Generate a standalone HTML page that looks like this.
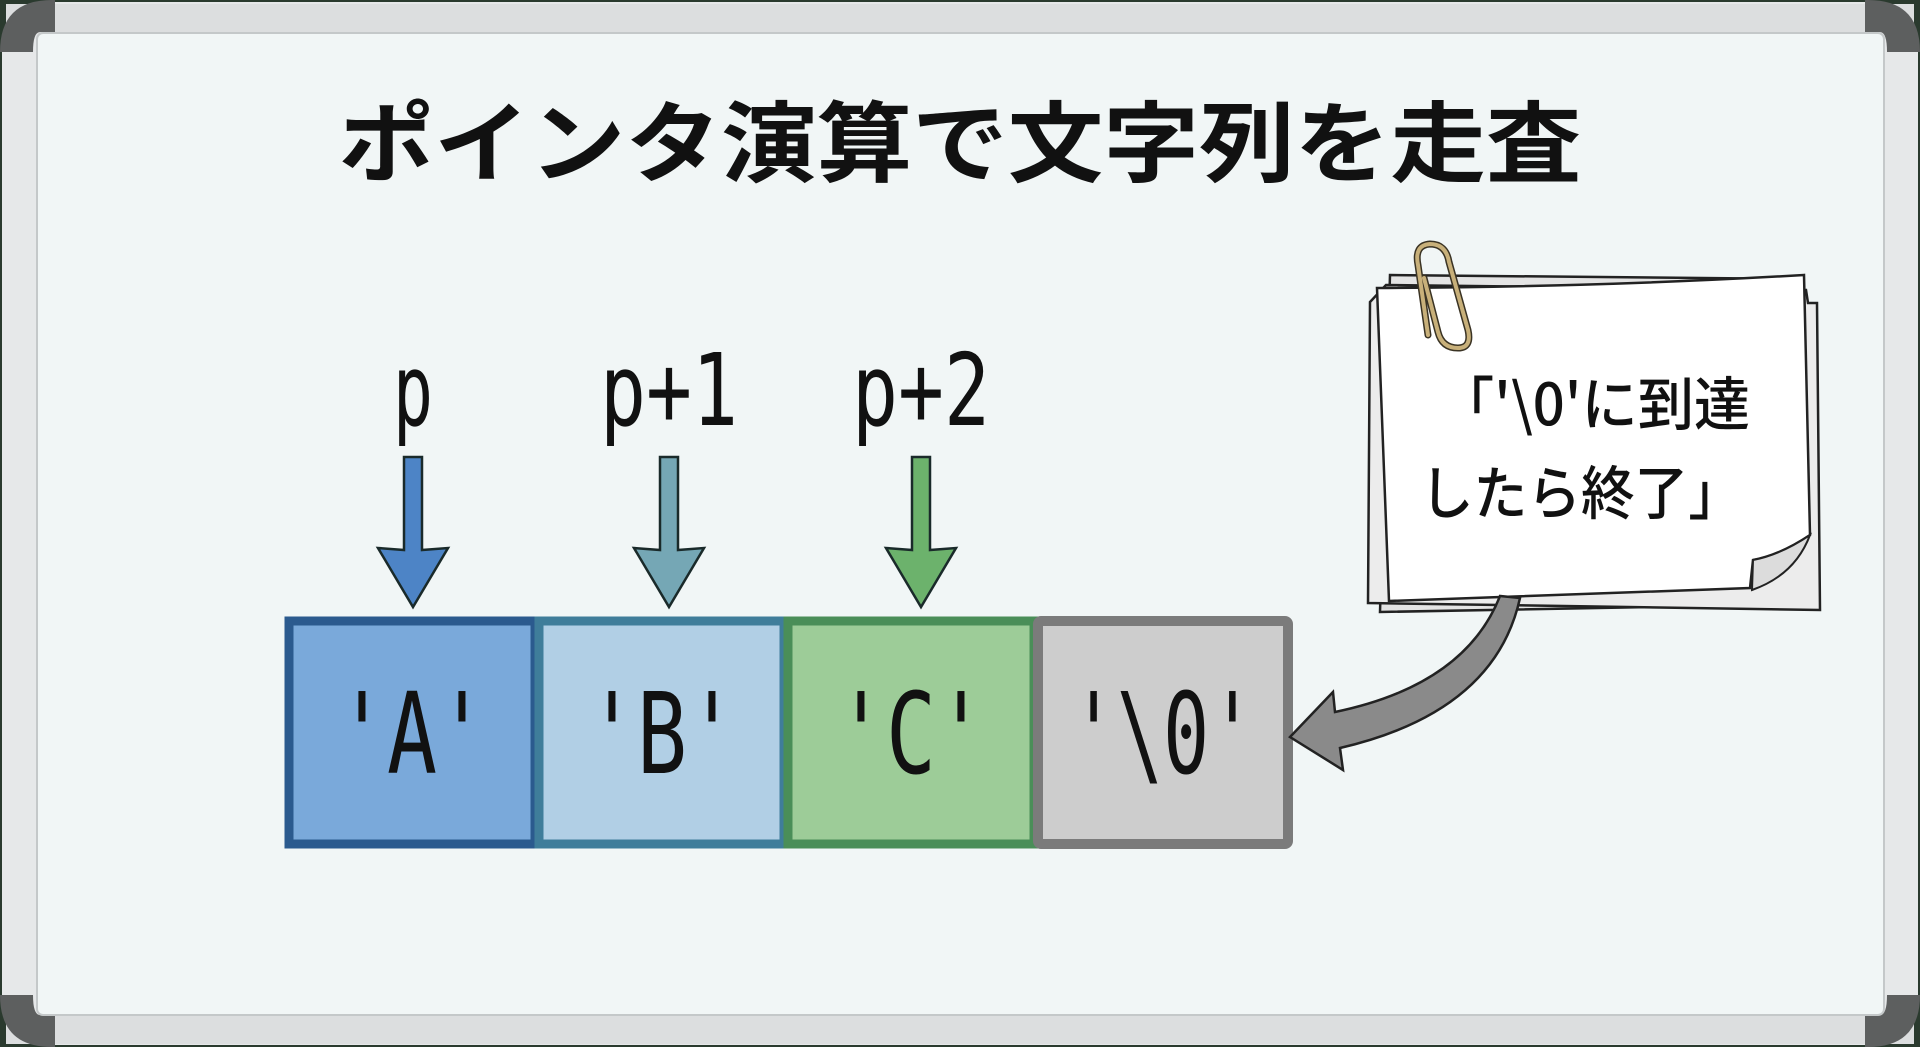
<!DOCTYPE html>
<html><head><meta charset="utf-8"><style>
html,body{margin:0;padding:0;background:#222;}
svg{display:block;}
</style></head><body>
<svg width="1920" height="1047" viewBox="0 0 1920 1047" xmlns="http://www.w3.org/2000/svg">
<rect x="0" y="0" width="1920" height="1047" fill="#2a3a2e"/>
<rect x="2" y="2" width="1916" height="1043" rx="40" fill="#e6e8e9"/>
<rect x="6" y="4" width="1908" height="30" fill="#dcdedf"/>
<rect x="6" y="1014" width="1908" height="30" fill="#dcdedf"/>
<path d="M0 52 Q0 0 52 0 L55 0 L55 32 L40 32 Q33 32 33 52 Z" fill="#5d5f5f"/>
<path d="M1920 52 Q1920 0 1868 0 L1865 0 L1865 32 L1880 32 Q1887 32 1887 52 Z" fill="#5d5f5f"/>
<path d="M0 995 Q0 1047 52 1047 L55 1047 L55 1015 L40 1015 Q33 1015 33 995 Z" fill="#5d5f5f"/>
<path d="M1920 995 Q1920 1047 1868 1047 L1865 1047 L1865 1015 L1880 1015 Q1887 1015 1887 995 Z" fill="#5d5f5f"/>
<rect x="37" y="33" width="1847" height="982" rx="6" fill="#f1f6f6" stroke="#c4c8c9" stroke-width="2"/>

<text x="960" y="175" text-anchor="middle" textLength="1243" lengthAdjust="spacingAndGlyphs" font-family="'Noto Sans CJK JP',sans-serif" font-weight="700" font-size="88" fill="#111">ポインタ演算で文字列を走査</text>

<g font-family="'DejaVu Sans Mono','Liberation Mono',monospace" font-size="100" fill="#111">
<text x="413" y="425" text-anchor="middle" textLength="40" lengthAdjust="spacingAndGlyphs">p</text>
<text x="669" y="425" text-anchor="middle" textLength="138" lengthAdjust="spacingAndGlyphs">p+1</text>
<text x="921" y="425" text-anchor="middle" textLength="138" lengthAdjust="spacingAndGlyphs">p+2</text>
</g>

<g stroke="#1a2a2a" stroke-width="2.5" stroke-linejoin="miter">
<path d="M404 457 H422 V550 L448 548 L413 607 L378 548 L404 550 Z" fill="#4d84c6"/>
<path d="M660 457 H678 V550 L704 548 L669 607 L634 548 L660 550 Z" fill="#75a7b5"/>
<path d="M912 457 H930 V550 L956 548 L921 607 L886 548 L912 550 Z" fill="#6cb26c"/>
</g>

<rect x="289" y="621" width="246" height="223" fill="#7aa9da" stroke="#2b5a8e" stroke-width="9"/>
<rect x="539" y="621" width="245" height="223" fill="#b1cfe5" stroke="#3f7d9a" stroke-width="9"/>
<rect x="788" y="621" width="246" height="223" fill="#9dcc98" stroke="#4a8e58" stroke-width="9"/>
<rect x="1038" y="621" width="250" height="223" fill="#cdcdcd" stroke="#7b7b7b" stroke-width="10" rx="3"/>

<g font-family="'DejaVu Sans Mono','Liberation Mono',monospace" font-size="112" fill="#111">
<text x="412" y="773" text-anchor="middle" textLength="150" lengthAdjust="spacingAndGlyphs">'A'</text>
<text x="662" y="773" text-anchor="middle" textLength="150" lengthAdjust="spacingAndGlyphs">'B'</text>
<text x="911" y="773" text-anchor="middle" textLength="150" lengthAdjust="spacingAndGlyphs">'C'</text>
<text x="1163" y="773" text-anchor="middle" textLength="185" lengthAdjust="spacingAndGlyphs">'\0'</text>
</g>

<path d="M1390 275 L1800 279 L1815 604 L1380 612 Z" fill="#e4e4e4" stroke="#222" stroke-width="2.5"/>
<path d="M1386 285 L1806 290 L1808 303 L1817 303 L1820 610 L1368 603 L1370 302 Z" fill="#ececec" stroke="#222" stroke-width="2.5"/>
<path d="M1377 288 Q1600 287 1804 275 L1810 535 Q1780 555 1753 560 L1750 588 Q1560 595 1389 601 Z" fill="#ffffff" stroke="#222" stroke-width="2.5"/>
<path d="M1753 560 Q1780 555 1810 535 Q1795 575 1752 590 Z" fill="#dcdcdc" stroke="#222" stroke-width="2"/>

<g fill="none" stroke-linecap="round">
<path d="M1428 335 L1418 265 Q1414 245 1430 244 Q1446 244 1449 262 L1468 330 Q1472 348 1458 348 Q1442 348 1438 332 L1424 278" stroke="#3a3324" stroke-width="7"/>
<path d="M1428 335 L1418 265 Q1414 245 1430 244 Q1446 244 1449 262 L1468 330 Q1472 348 1458 348 Q1442 348 1438 332 L1424 278" stroke="#c8b07a" stroke-width="4"/>
</g>

<g font-family="'Noto Sans CJK JP',sans-serif" font-weight="500" font-size="58" fill="#111">
<text x="1438" y="425" textLength="312" lengthAdjust="spacingAndGlyphs">「'\0'に到達</text>
<text x="1420" y="514" textLength="322" lengthAdjust="spacingAndGlyphs">したら終了」</text>
</g>

<path d="M1500 596 Q1465 685 1335 712 L1333 692 L1290 737 L1343 770 L1340 748 Q1495 712 1520 598 Z" fill="#8a8a8a" stroke="#222" stroke-width="2.5" stroke-linejoin="miter"/>
</svg>
</body></html>
